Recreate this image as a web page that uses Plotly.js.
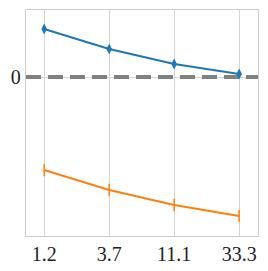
<!DOCTYPE html>
<html><head><meta charset="utf-8">
<script src="https://cdn.plot.ly/plotly-3.0.1.min.js"></script>
<style>html,body{margin:0;padding:0;background:#fff}</style>
</head><body><div id="chart" style="width:268px;height:271px"></div>
<script>
const tickLabels = ["1.2", "3.7", "11.1", "33.3"];
const xIdx = [0, 1, 2, 3];
const blueValues = [4.8, 2.8, 1.3, 0.3];
const orangeValues = [-9.3, -11.3, -12.8, -13.9];
const refValue = [0, 0];

const traces = [
  {x: [-0.28, 3.29], y: refValue, mode: 'lines', line: {color: '#808080', width: 4, dash: '15px,7px'}, hoverinfo: 'skip', showlegend: false},
  {x: xIdx, y: blueValues, mode: 'lines+markers', line: {color: '#1f77b4', width: 2}, marker: {symbol: 'diamond-tall', size: 8, color: '#1f77b4'}, showlegend: false},
  {x: xIdx, y: orangeValues, mode: 'lines+markers', line: {color: '#ff7f0e', width: 2}, marker: {symbol: 'line-ns', size: 9, line: {color: '#ff7f0e', width: 1.5}}, showlegend: false}
];
const fnt = {family: '"Liberation Serif", "Times New Roman", serif', size: 20, color: '#222'};
const layout = {
  width: 268, height: 271,
  margin: {l: 26, r: 10, t: 10, b: 35},
  paper_bgcolor: '#fff', plot_bgcolor: '#fff',
  font: fnt,
  xaxis: {range: [-0.28, 3.29], tickvals: xIdx, ticktext: tickLabels, showgrid: true, gridcolor: '#d3d3d3', gridwidth: 1, zeroline: false, showline: true, linecolor: '#cccccc', linewidth: 1.2, mirror: true, ticks: '', ticklen: 0, tickfont: fnt},
  yaxis: {range: [-15.9, 6.7], tickvals: [0], ticktext: ['0'], showgrid: true, gridcolor: '#d3d3d3', zeroline: false, showline: true, linecolor: '#cccccc', linewidth: 1.2, mirror: true, ticks: '', tickfont: fnt}
};
Plotly.newPlot('chart', traces, layout, {displayModeBar: false, staticPlot: true});
</script></body></html>
